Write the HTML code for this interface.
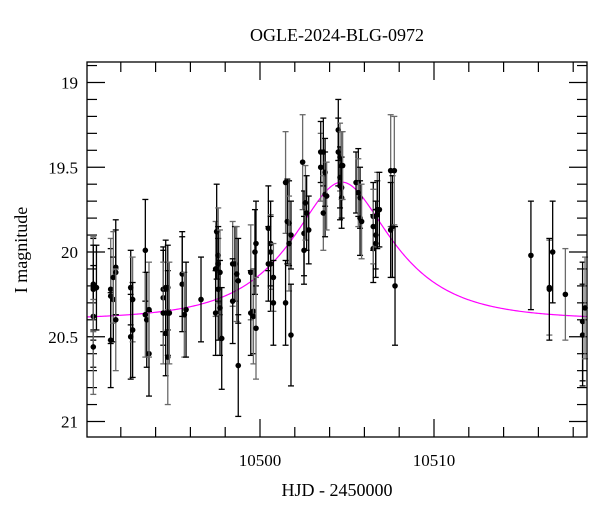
<!DOCTYPE html>
<html><head><meta charset="utf-8"><style>
body{margin:0;background:#fff}
svg text{font-family:"Liberation Serif",serif;fill:#000}
</style></head><body>
<svg id="chart" width="600" height="512" viewBox="0 0 600 512" xmlns="http://www.w3.org/2000/svg">
<text x="337" y="41" text-anchor="middle" font-size="18">OGLE-2024-BLG-0972</text>
<text x="337" y="496" text-anchor="middle" font-size="18">HJD - 2450000</text>
<text transform="translate(27,250) rotate(-90)" text-anchor="middle" font-size="18">I magnitude</text>
<g id="ticks"></g>
<g id="model"></g>
<g id="pts"></g>
<rect x="87" y="62" width="500" height="375" fill="none" stroke="#000" stroke-width="1.3"/>
</svg>
<script>
const hjd=[10490.42,10490.42,10490.42,10490.42,10490.42,10490.6,10491.42,10491.42,10491.42,10491.57,10491.57,10491.71,10491.71,10491.71,10492.57,10492.57,10492.68,10492.68,10493.41,10493.41,10493.49,10493.62,10493.62,10494.44,10494.44,10494.44,10494.58,10494.58,10494.70,10494.70,10494.70,10494.79,10495.53,10495.53,10495.65,10495.75,10496.61,10497.45,10497.45,10497.51,10497.60,10497.60,10497.60,10497.70,10497.70,10497.80,10498.43,10498.43,10498.56,10498.66,10498.75,10498.75,10499.47,10499.47,10499.62,10499.62,10499.71,10499.77,10499.77,10500.48,10500.48,10500.61,10500.61,10500.61,10500.77,10500.77,10501.47,10501.47,10501.57,10501.67,10501.67,10501.78,10501.78,10502.45,10502.53,10502.53,10502.61,10502.68,10502.80,10503.49,10503.49,10503.64,10503.64,10503.74,10503.74,10503.83,10504.50,10504.50,10504.60,10504.60,10504.60,10504.69,10504.69,10504.69,10504.75,10505.52,10505.65,10505.65,10505.75,10505.75,10505.84,10506.51,10506.51,10506.51,10506.65,10506.65,10506.74,10506.74,10506.86,10507.51,10507.51,10507.61,10507.72,10507.76,10515.57,10516.63,10516.63,10516.82,10517.55,10518.54,10518.54,10518.68];
const mag=[20.22,20.19,20.21,20.38,20.56,20.21,20.26,20.22,20.52,20.28,20.15,20.09,20.12,20.40,20.21,20.50,20.28,20.46,19.99,20.37,20.40,20.60,20.34,20.22,20.27,20.36,20.48,20.21,20.62,20.36,20.21,20.36,20.13,20.19,20.37,20.34,20.28,20.10,20.36,19.88,20.02,20.07,20.22,20.12,20.33,20.51,20.07,20.29,20.07,20.13,20.67,20.17,20.12,20.36,20.35,20.38,20.00,19.95,20.45,20.07,19.86,20.00,19.95,20.07,20.15,20.30,20.30,19.59,19.82,19.83,19.95,20.49,19.90,19.47,19.89,19.99,19.71,19.77,19.87,19.50,19.41,19.41,19.77,19.53,19.66,19.67,19.28,19.41,19.44,19.56,19.61,19.49,19.62,19.68,19.49,19.59,19.59,19.65,19.68,19.80,19.82,19.79,19.98,19.85,19.95,19.90,19.75,19.78,19.75,19.52,19.87,19.85,19.52,20.20,20.02,20.21,20.22,20.00,20.25,20.41,20.49,20.33];
const err=[0.30,0.28,0.25,0.30,0.28,0.25,0.28,0.30,0.28,0.25,0.27,0.28,0.25,0.30,0.22,0.25,0.25,0.28,0.30,0.25,0.28,0.25,0.28,0.25,0.28,0.30,0.25,0.28,0.28,0.25,0.25,0.30,0.25,0.28,0.25,0.28,0.25,0.28,0.25,0.28,0.28,0.22,0.30,0.25,0.28,0.30,0.25,0.25,0.22,0.28,0.30,0.25,0.28,0.25,0.25,0.28,0.25,0.25,0.30,0.22,0.25,0.22,0.25,0.28,0.20,0.25,0.25,0.30,0.25,0.25,0.28,0.30,0.20,0.28,0.25,0.20,0.22,0.22,0.20,0.20,0.18,0.20,0.22,0.20,0.25,0.20,0.18,0.20,0.20,0.18,0.20,0.20,0.18,0.18,0.20,0.18,0.20,0.20,0.18,0.22,0.22,0.20,0.20,0.22,0.20,0.20,0.22,0.20,0.22,0.33,0.28,0.30,0.32,0.35,0.32,0.28,0.30,0.30,0.27,0.35,0.30,0.30];
const xTicks=[10500,10510];
const yTicks=[19,19.5,20,20.5,21];
const t0=10504.7, tE=4.85, u0=0.52, baseMag=20.40;

const NS="http://www.w3.org/2000/svg";
const L=87,R=587,T=62,B=437;
const X=v=>260+(v-10500)*17.4;
const Y=m=>82.5+(m-19)*169.5;
function mk(tag,attrs,parent){const e=document.createElementNS(NS,tag);for(const k in attrs)e.setAttribute(k,attrs[k]);parent.appendChild(e);return e;}
const tk=document.getElementById('ticks');
// x ticks
for(let d=10490;d<=10518.8;d+=2){
  const x=X(d);if(x<L||x>R)continue;
  const major=(Math.round(d)%10===0);const len=major?18:10;
  const l1=mk('line',{x1:x,x2:x,y1:B,y2:B-len,stroke:'#000','stroke-width':1.2},tk);
  
  
  const l2=mk('line',{x1:x,x2:x,y1:T,y2:T+len,stroke:'#000','stroke-width':1.2},tk);
  
  
}
xTicks.forEach(v=>{
  const t=mk('text',{x:X(v),y:466,'text-anchor':'middle','font-size':17},tk);t.textContent=v;
  
  
});
for(let i=0;i<=22;i++){
  const m=18.9+i*0.1;const y=Y(m);if(y<T||y>B)continue;
  const major=(Math.round(m*10)%5===0);const len=major?18:10;
  const l1=mk('line',{x1:L,x2:L+len,y1:y,y2:y,stroke:'#000','stroke-width':1.2},tk);
  
  
  const l2=mk('line',{x1:R,x2:R-len,y1:y,y2:y,stroke:'#000','stroke-width':1.2},tk);
  
  
}
yTicks.forEach(v=>{
  const t=mk('text',{x:78,y:Y(v)+6,'text-anchor':'end','font-size':17},tk);t.textContent=v;
  
  
});
// model
function modelMag(t){const tau=(t-t0)/tE;const u=Math.sqrt(tau*tau+u0*u0);const A=(u*u+2)/(u*Math.sqrt(u*u+4));return baseMag-2.5*Math.log10(A);}
let d='';
for(let x=L;x<=R;x+=1){const t=10500+(x-260)/17.4;d+=(x===L?'M':'L')+x+','+Y(modelMag(t)).toFixed(2);}
const mp=mk('path',{d:d,fill:'none',stroke:'#ff00ff','stroke-width':1.2},document.getElementById('model'));


// points
const pg=document.getElementById('pts');
hjd.forEach((t,i)=>{
  const x=X(t),y=Y(mag[i]);const y1=Y(mag[i]-err[i]),y2=Y(Math.min(mag[i]+err[i],21.09));
  const col=i%3===1?'#6a6a6a':'#000';
  const g=mk('g',{},pg);
  
  
  mk('line',{x1:x,x2:x,y1:y1,y2:y2,stroke:col,'stroke-width':1.3},g);
  mk('line',{x1:x-3,x2:x+3,y1:y1,y2:y1,stroke:col,'stroke-width':1.3},g);
  if(mag[i]+err[i]<21.09)mk('line',{x1:x-3,x2:x+3,y1:y2,y2:y2,stroke:col,'stroke-width':1.3},g);
  mk('circle',{cx:x,cy:y,r:2.8,fill:'#000'},g);
});
</script>
</body></html>
